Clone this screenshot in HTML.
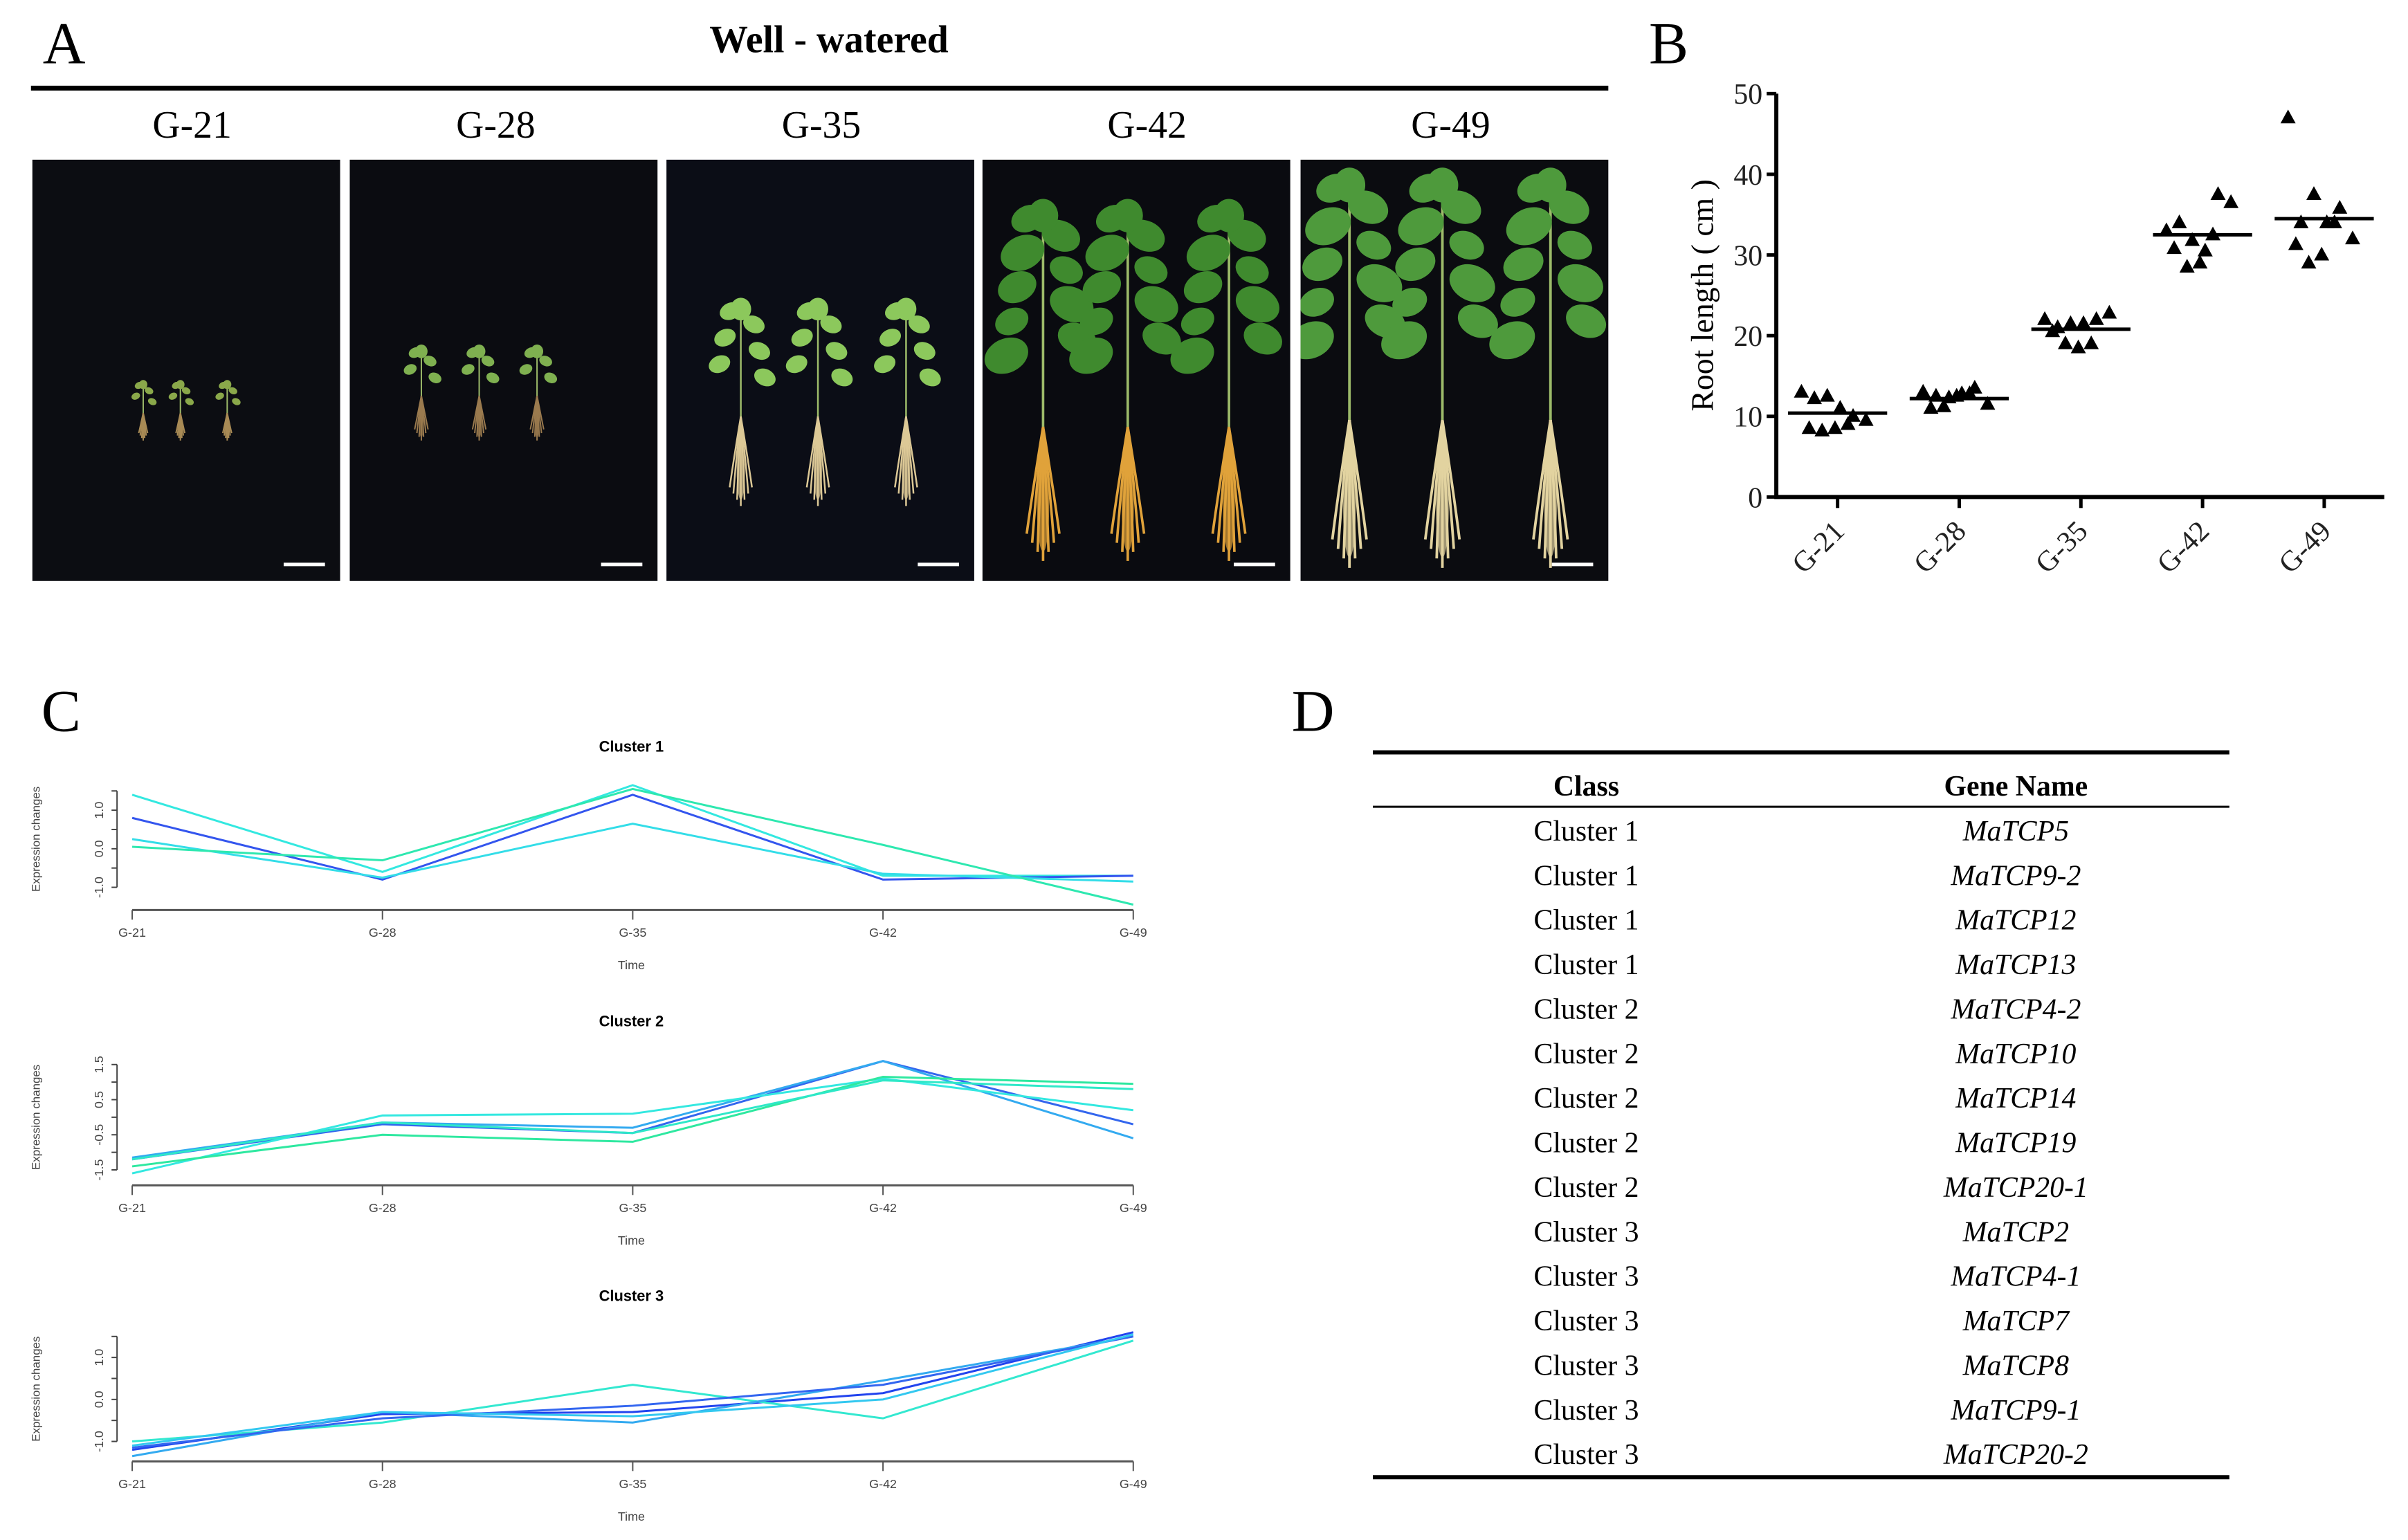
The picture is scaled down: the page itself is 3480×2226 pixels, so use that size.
<!DOCTYPE html>
<html><head><meta charset="utf-8">
<style>
html,body{margin:0;padding:0;background:#fff;}
svg{display:block;}
.serif{font-family:"Liberation Serif",serif;}
.sans{font-family:"Liberation Sans",sans-serif;}
</style></head>
<body>
<svg id="fig" width="3480" height="2226" viewBox="0 0 3480 2226" xmlns="http://www.w3.org/2000/svg">
<defs id="defs"></defs>
<g transform="scale(0.995)">
<g id="panelA">
  <text x="62" y="92" class="serif" font-size="86">A</text>
  <text x="1204" y="76" class="serif" font-size="56" font-weight="bold" text-anchor="middle">Well - watered</text>
  <line x1="45" y1="128" x2="2336" y2="128" stroke="#000" stroke-width="7"/>
  <g id="photos"></g>
</g>
<g id="panelB">
  <text x="2395" y="92" class="serif" font-size="86">B</text>
</g>
<g id="panelC">
  <text x="60" y="1062" class="serif" font-size="86">C</text>
</g>
<g id="panelD">
  <text x="1876" y="1062" class="serif" font-size="86">D</text>
</g>
</g>
</svg>
<script>
const NS="http://www.w3.org/2000/svg";
function mk(tag,attrs,parent){const e=document.createElementNS(NS,tag);for(const k in attrs)e.setAttribute(k,attrs[k]);parent.appendChild(e);return e;}

/* ---------- Panel B data ---------- */
const rootCategories=["G-21","G-28","G-35","G-42","G-49"];
const rootG21=[13,12.2,12.5,11,10,9.5,8.5,8.2,8.5,9];
const rootG28=[13,12.5,12.3,12.8,13.5,11.5,11,11.2,12.5,12.8];
const rootG35=[22,21,21.5,21.5,22,22.8,20.5,19,18.5,19];
const rootG42=[33,34,31.8,30.5,37.5,36.5,30.8,28.5,29,32.5];
const rootG49=[47,34,37.5,34,35.8,32,31.3,29,30,34];
const rootMeans=[10.4,12.2,20.8,32.5,34.5];
const rootTicks=[0,10,20,30,40,50];

/* ---------- Panel C data ---------- */
const timeLabels=["G-21","G-28","G-35","G-42","G-49"];
const c1Ticks=[-1.0,-0.5,0.0,0.5,1.0,1.5];
const c1Labels=["-1.0","0.0","1.0"];
const c1a=[1.4,-0.6,1.65,-0.7,-0.7];
const c1b=[0.8,-0.8,1.4,-0.8,-0.7];
const c1c=[0.25,-0.75,0.65,-0.65,-0.85];
const c1d=[0.05,-0.3,1.55,0.1,-1.45];
const c2Ticks=[-1.5,-1.0,-0.5,0.0,0.5,1.0,1.5];
const c2Labels=["-1.5","-0.5","0.5","1.5"];
const c2a=[-1.2,-0.2,-0.45,1.6,-0.2];
const c2b=[-1.15,-0.15,-0.3,1.6,-0.6];
const c2c=[-1.6,0.05,0.1,1.1,0.2];
const c2d=[-1.4,-0.5,-0.7,1.15,0.95];
const c2e=[-1.2,-0.15,-0.45,1.05,0.8];
const c3Ticks=[-1.0,-0.5,0.0,0.5,1.0,1.5];
const c3Labels=["-1.0","0.0","1.0"];
const c3a=[-1.2,-0.35,-0.3,0.15,1.6];
const c3b=[-1.0,-0.55,0.35,-0.45,1.4];
const c3c=[-1.35,-0.3,-0.55,0.45,1.5];
const c3d=[-1.15,-0.45,-0.15,0.35,1.5];
const c3e=[-1.1,-0.3,-0.4,0.0,1.55];

/* ---------- Panel D data ---------- */
const tableClasses=["Cluster 1","Cluster 1","Cluster 1","Cluster 1","Cluster 2","Cluster 2","Cluster 2","Cluster 2","Cluster 2","Cluster 3","Cluster 3","Cluster 3","Cluster 3","Cluster 3","Cluster 3"];
const tableGenes=["MaTCP5","MaTCP9-2","MaTCP12","MaTCP13","MaTCP4-2","MaTCP10","MaTCP14","MaTCP19","MaTCP20-1","MaTCP2","MaTCP4-1","MaTCP7","MaTCP8","MaTCP9-1","MaTCP20-2"];

/* ---------- Panel A photos ---------- */
(function(){
  const g=document.getElementById('photos');
  const defs=document.getElementById('defs');
  const panels=[
    {x:47,lab:"G-21",lx:279,bg:"#0c0d12",plants:[208,262,330],top:555,root:640,mid:600,leaf:12,leafC:"#8aa84a",rootC:"#a88a55"},
    {x:508,lab:"G-28",lx:720,bg:"#0b0c11",plants:[612,696,780],top:505,root:640,mid:575,leaf:18,leafC:"#7fb050",rootC:"#9a7a4e"},
    {x:968,lab:"G-35",lx:1193,bg:"#0b0d16",plants:[1076,1188,1316],top:440,root:735,mid:605,leaf:30,leafC:"#8cc85c",rootC:"#dcc896"},
    {x:1427,lab:"G-42",lx:1666,bg:"#0a0b10",plants:[1515,1638,1785],top:300,root:815,mid:620,leaf:44,leafC:"#3f8a2e",rootC:"#e0a23a"},
    {x:1889,lab:"G-49",lx:2107,bg:"#0b0c10",plants:[1960,2095,2252],top:255,root:825,mid:610,leaf:46,leafC:"#4e9a3c",rootC:"#e2d3a0"}
  ];
  panels.forEach((p,i)=>{
    const cp=mk('clipPath',{id:'clip'+i},defs);
    mk('rect',{x:p.x,y:232,width:447,height:612},cp);
    const t=mk('text',{x:p.lx,y:200,'font-size':56,'text-anchor':'middle','class':'serif'},g);
    t.textContent=p.lab;
    
    
    const r=mk('rect',{x:p.x,y:232,width:447,height:612,fill:p.bg},g);
    
    
    const cg=mk('g',{'clip-path':`url(#clip${i})`},g);
    mk('line',{x1:p.x+365,y1:820,x2:p.x+425,y2:820,stroke:'#fff','stroke-width':5},g);
    p.plants.forEach((px,j)=>{
      const pg=mk('g',{},cg);
      
      
      for(let k=-3;k<=3;k++){
        mk('path',{d:`M${px},${p.mid} Q${px+k*p.leaf*0.12},${(p.mid+p.root)/2} ${px+k*p.leaf*0.18},${p.root-Math.abs(k)*p.leaf*0.3}`,stroke:p.rootC,'stroke-width':Math.max(2,p.leaf/12),fill:'none'},pg);
      }
      mk('ellipse',{cx:px,cy:(p.mid*0.4+p.root*0.6),rx:p.leaf*0.2,ry:(p.root-p.mid)*0.33,fill:p.rootC,opacity:0.7},pg);
      mk('line',{x1:px,y1:p.top+p.leaf*0.5,x2:px,y2:p.mid,stroke:'#9dbb6a','stroke-width':Math.max(2,p.leaf/12)},pg);
      const n=i<2?4:(i<3?6:9);
      for(let k=0;k<n;k++){
        const side=(k%2?1:-1);
        const fy=p.top+(p.mid-p.top)*0.7*(k/n);
        const spread=p.leaf*(0.5+0.8*(k/n));
        const s=p.leaf*(i>=3?0.95+0.15*(k%3):0.9);
        mk('ellipse',{cx:px+side*spread,cy:fy+p.leaf*0.4,rx:s*0.6,ry:s*0.45,fill:p.leafC,transform:`rotate(${side*25} ${px+side*spread} ${fy+p.leaf*0.4})`},pg);
      }
      mk('ellipse',{cx:px,cy:p.top+p.leaf*0.3,rx:p.leaf*0.5,ry:p.leaf*0.55,fill:p.leafC},pg);
    });
  });
})();

/* ---------- Panel B chart ---------- */
(function(){
  const g=document.getElementById('panelB');
  const x0=2580,x1=3463,yb=722,yt=136;
  const ys=v=>yb-(v-0)/(50-0)*(yb-yt);
  const xs=i=>2669+i*176.7;
  const ax=mk('path',{d:`M${x0},${yt} V${yb} H${x1}`,stroke:'#000','stroke-width':6,fill:'none'},g);
  
  rootTicks.forEach(v=>{
    mk('line',{x1:x0-14,y1:ys(v),x2:x0,y2:ys(v),stroke:'#000','stroke-width':5},g);
    const t=mk('text',{x:x0-20,y:ys(v)+15,'font-size':42,'text-anchor':'end','class':'serif',fill:'#222'},g);
    t.textContent=v;
    
  });
  const yl=mk('text',{x:2488,y:429,'font-size':46,'text-anchor':'middle','class':'serif',transform:'rotate(-90 2488 429)'},g);
  yl.textContent="Root length ( cm )";
  
  const series=[rootG21,rootG28,rootG35,rootG42,rootG49];
  const jit=[-0.7,-0.45,-0.2,0.05,0.3,0.55,-0.55,-0.3,-0.05,0.2];
  rootCategories.forEach((c,i)=>{
    const cx=xs(i);
    mk('line',{x1:cx,y1:yb,x2:cx,y2:yb+16,stroke:'#000','stroke-width':5},g);
    const t=mk('text',{x:cx+12,y:yb+52,'font-size':42,'text-anchor':'end','class':'serif',fill:'#222',transform:`rotate(-45 ${cx+12} ${yb+52})`},g);
    t.textContent=c;
    
    series[i].forEach((v,k)=>{
      const px=cx+jit[k]*75, py=ys(v);
      const tri=mk('path',{d:`M${px},${py-12} L${px+11},${py+8} L${px-11},${py+8} Z`,fill:'#000'},g);
      
    });
    const m=mk('line',{x1:cx-72,y1:ys(rootMeans[i]),x2:cx+72,y2:ys(rootMeans[i]),stroke:'#000','stroke-width':5},g);
    
  });
})();

/* ---------- Panel C charts ---------- */
(function(){
  const g=document.getElementById('panelC');
  const xL=192,xR=1646;
  const xs=i=>xL+i*(xR-xL)/4;
  const clusters=[
    {name:"Cluster 1",titleY:1092,axisY:1322,zero:1233,unit:56,ticks:c1Ticks,labels:c1Labels,series:[c1a,c1b,c1c,c1d],colors:["#33e8e0","#3355ee","#33dde8","#2ee8b0"]},
    {name:"Cluster 2",titleY:1491,axisY:1722,zero:1623,unit:51,ticks:c2Ticks,labels:c2Labels,series:[c2a,c2b,c2c,c2d,c2e],colors:["#3366ee","#33aaf0","#33e8e0","#2ee8a0","#2ee8c8"]},
    {name:"Cluster 3",titleY:1890,axisY:2123,zero:2033,unit:61,ticks:c3Ticks,labels:c3Labels,series:[c3a,c3b,c3c,c3d,c3e],colors:["#2244ee","#33e8d0","#33aaf0","#3366f0","#33c8f0"]}
  ];
  clusters.forEach(c=>{
    const ys=v=>c.zero-v*c.unit;
    const t=mk('text',{x:917,y:c.titleY,'font-size':22,'font-weight':'bold','text-anchor':'middle','class':'sans'},g);
    t.textContent=c.name;
    
    mk('line',{x1:xL,y1:c.axisY,x2:xR,y2:c.axisY,stroke:'#555','stroke-width':3},g);
    timeLabels.forEach((l,i)=>{
      mk('line',{x1:xs(i),y1:c.axisY,x2:xs(i),y2:c.axisY+14,stroke:'#555','stroke-width':2},g);
      const tl=mk('text',{x:xs(i),y:c.axisY+39,'font-size':18,'text-anchor':'middle','class':'sans',fill:'#444'},g);
      tl.textContent=l;
      
    });
    const tt=mk('text',{x:917,y:c.axisY+86,'font-size':18,'text-anchor':'middle','class':'sans',fill:'#444'},g);
    tt.textContent="Time";
    
    const tmin=Math.min(...c.ticks),tmax=Math.max(...c.ticks);
    mk('line',{x1:170,y1:ys(tmin),x2:170,y2:ys(tmax),stroke:'#444','stroke-width':2},g);
    c.ticks.forEach(v=>mk('line',{x1:162,y1:ys(v),x2:170,y2:ys(v),stroke:'#444','stroke-width':2},g));
    c.labels.forEach(l=>{
      const v=parseFloat(l);
      const tl=mk('text',{x:150,y:ys(v),'font-size':18,'text-anchor':'middle','class':'sans',fill:'#444',transform:`rotate(-90 150 ${ys(v)})`},g);
      tl.textContent=l;
      
    });
    const yl=mk('text',{x:58,y:ys((tmin+tmax)/2),'font-size':17,'text-anchor':'middle','class':'sans',fill:'#444',transform:`rotate(-90 58 ${ys((tmin+tmax)/2)})`},g);
    yl.textContent="Expression changes";
    
    c.series.forEach((s,k)=>{
      const d=s.map((v,i)=>(i?'L':'M')+xs(i)+','+ys(v)).join(' ');
      const p=mk('path',{d:d,stroke:c.colors[k],'stroke-width':3,fill:'none'},g);
      
      
    });
  });
})();

/* ---------- Panel D table ---------- */
(function(){
  const g=document.getElementById('panelD');
  mk('line',{x1:1994,y1:1093,x2:3238,y2:1093,stroke:'#000','stroke-width':6},g);
  mk('line',{x1:1994,y1:1172,x2:3238,y2:1172,stroke:'#000','stroke-width':3},g);
  mk('line',{x1:1994,y1:2146,x2:3238,y2:2146,stroke:'#000','stroke-width':6},g);
  const h1=mk('text',{x:2304,y:1156,'font-size':42,'font-weight':'bold','text-anchor':'middle','class':'serif'},g);
  h1.textContent="Class";
  
  const h2=mk('text',{x:2928,y:1156,'font-size':42,'font-weight':'bold','text-anchor':'middle','class':'serif'},g);
  h2.textContent="Gene Name";
  
  tableClasses.forEach((c,i)=>{
    const y=1221+i*64.7;
    const a=mk('text',{x:2304,y:y,'font-size':42,'text-anchor':'middle','class':'serif'},g);
    a.textContent=c;
    
    const b=mk('text',{x:2928,y:y,'font-size':42,'font-style':'italic','text-anchor':'middle','class':'serif'},g);
    b.textContent=tableGenes[i];
    
  });
})();
</script>
</body></html>
